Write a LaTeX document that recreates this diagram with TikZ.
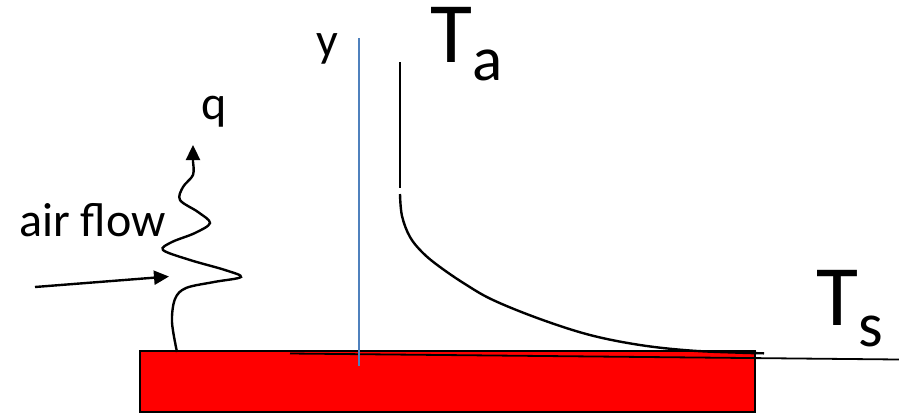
\documentclass[tikz,border=0pt]{standalone}
\usepackage{fontspec}
\setmainfont{Carlito}
\usetikzlibrary{arrows.meta}
\definecolor{axisblue}{RGB}{79,129,189}
\newcommand{\subsz}{\fontsize{63}{63}\selectfont}
\tikzset{
  ln/.style={line width=2.4pt, black},
  lbl/.style={inner sep=0pt, anchor=base, font=\fontsize{48}{48}\selectfont},
  big/.style={inner sep=0pt, anchor=base west, text height=56pt, font=\fontsize{86}{86}\selectfont},
  tip/.style={-{Triangle[length=15pt,width=14pt]}}
}
\begin{document}
\begin{tikzpicture}[x=1pt,y=-1pt]
\useasboundingbox (0,0) rectangle (899,416);
% plate
\draw[line width=1.8pt, fill=red] (140,351) rectangle (755,412);
% slanted surface line
\coordinate (sl) at (290,353.5);
\coordinate (sr) at (899,359.5);
\draw[line width=1.8pt] (sl) -- (sr);
% y axis
\coordinate (yb) at (359,366);
\coordinate (yt) at (359,38);
\draw[axisblue, line width=2.6pt] (yb) -- (yt);
% temperature profile
\coordinate (ta1) at (400,62);
\coordinate (ta2) at (400,188);
\draw[ln] (ta1) -- (ta2);
\draw[ln] plot[smooth, tension=0.6] coordinates {(400,194) (402,216) (410,237) (423,253) (440,267) (465,284) (493,300) (540,319) (590,335) (640,345) (690,350.5) (740,352.7) (764,353.3)};
% air flow arrow
\coordinate (af1) at (35,287);
\coordinate (af2) at (169,276.5);
\draw[ln, tip] (af1) -- (af2);
% heat flow wavy arrow
\draw[ln, tip] plot[smooth, tension=0.55] coordinates {(177,352) (172,322) (175,299) (186,288) (214,282) (241,277) (225,270) (190,260) (163,250) (172,242) (195,233) (210,223) (198,212) (180,200) (183,187) (193,175) (193,162)} -- (193,145);
% labels
\node[lbl] (ly) at (327,56) {y};
\node[lbl] (lq) at (214.5,119) {q};
\node[lbl] (lair) at (92.5,236) {air flow};
\node[big] (Ta) at (430,62) {T\raisebox{-18pt}{\subsz a}};
\node[big] (Ts) at (816,325) {T\raisebox{-21pt}{\subsz s}};
\end{tikzpicture}
\end{document}
